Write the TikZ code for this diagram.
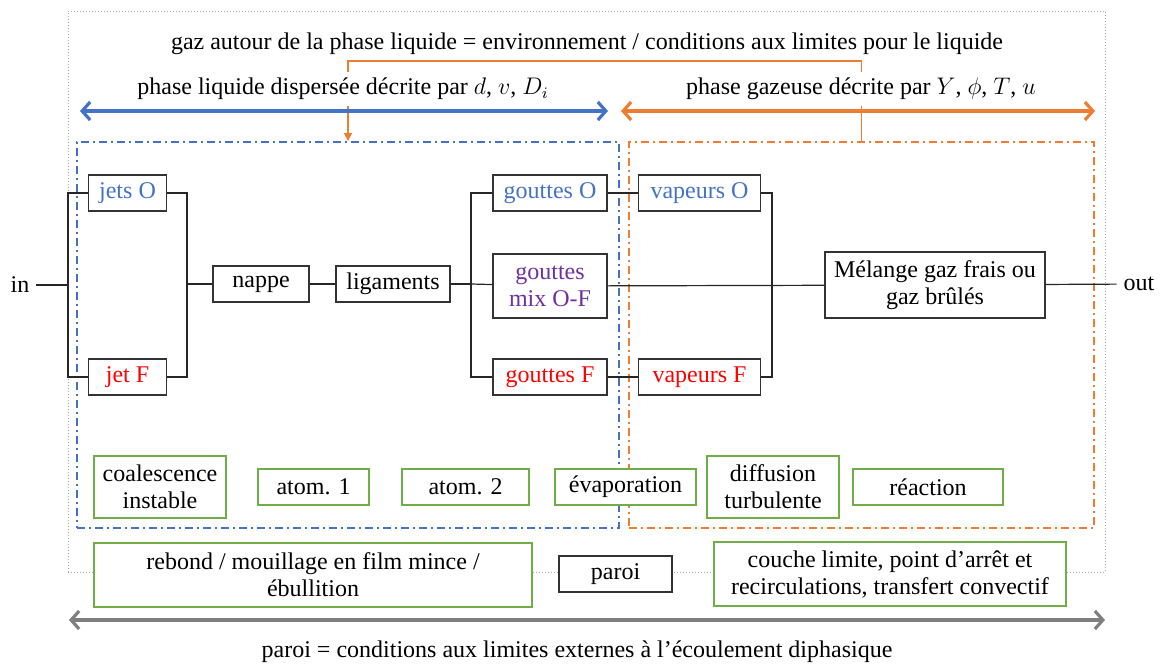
\documentclass[tikz,border=0pt]{standalone}
\usepackage{fontspec}
\setmainfont{Liberation Serif}
\usetikzlibrary{arrows.meta}

\definecolor{cblue}{HTML}{4472C4}
\definecolor{cred}{HTML}{FF0000}
\definecolor{cpurple}{HTML}{7030A0}
\definecolor{corange}{HTML}{ED7D31}
\definecolor{cgreen}{HTML}{70AD47}
\definecolor{cgrey}{HTML}{7F7F7F}
\definecolor{cframe}{HTML}{A6A6A6}

\begin{document}
\begin{tikzpicture}[
  x=0.5pt, y=-0.5pt,
  font=\fontsize{12pt}{13.5pt}\selectfont,
  box/.style={draw=black!80, line width=0.75pt, align=center, inner sep=1pt, minimum height=18pt},
  procbox/.style={draw=cgreen, line width=0.75pt, fill=white, align=center, inner sep=1pt, minimum height=18pt},
  zone/.style={line width=0.9pt, inner sep=0pt, minimum height=193pt, dash pattern=on 4pt off 2pt on 1pt off 2pt},
  wire/.style={line width=0.6pt, black!85},
  phasetext/.style={fill=white, inner sep=3pt},
  phasearrow/.style={line width=1.6pt, {Straight Barb[length=4pt,width=9pt]}-{Straight Barb[length=4pt,width=9pt]}}
]
\useasboundingbox (0,0) rectangle (1160,664);

% cadre et zones
\node[draw=cframe, densely dotted, line width=0.5pt, inner sep=0pt, minimum width=518.5pt, minimum height=280.5pt] (cadre) at (586.5,291.5) {};
\node[zone, draw=cblue, minimum width=271pt] (liq) at (348,335) {};
\node[zone, draw=corange, minimum width=232.5pt] (gaz) at (861.5,335) {};

\draw[corange, line width=0.75pt, -{Triangle[length=4pt,width=4pt]}] (gaz.north) -- ++(0,-80) -| (liq.north);

% titres
\node (titre) at (587,44) {gaz autour de la phase liquide = environnement / conditions aux limites pour le liquide};
\node[phasetext] (tliq) at (343,89) {phase liquide dispersée décrite par $d$, $v$, $D_i$};
\node[phasetext] (tgaz) at (861,89) {phase gazeuse décrite par $Y$, $\phi$, $T$, $u$};

\coordinate (la) at (80,111);
\coordinate (lb) at (608,111);
\coordinate (ga) at (621,111);
\coordinate (gb) at (1095,111);
\draw[phasearrow, cblue] (la) -- (lb);
\draw[phasearrow, corange] (ga) -- (gb);

% chaine
\node (in) at (20,285) {in};
\node[box, minimum width=39pt, text=cblue] (jetO) at (127.5,193) {jets O};
\node[box, minimum width=39pt, text=cred] (jetF) at (127.5,377) {jet F};
\node[box, minimum width=48pt] (nappe) at (261,284) {nappe};
\node[box, minimum width=57pt] (lig) at (393,284) {ligaments};
\node[box, minimum width=57pt, text=cblue] (gO) at (550,193) {gouttes O};
\node[box, minimum width=57pt, minimum height=32pt, text=cpurple] (gM) at (550,286) {gouttes\\mix O-F};
\node[box, minimum width=57pt, text=cred] (gF) at (550,377) {gouttes F};
\node[box, minimum width=61pt, text=cblue] (vO) at (699.5,193) {vapeurs O};
\node[box, minimum width=61pt, text=cred] (vF) at (699.5,377) {vapeurs F};
\node[box, minimum width=110pt, minimum height=33pt] (mel) at (935,285) {Mélange gaz frais ou\\gaz brûlés};
\node (out) at (1139,284) {out};

\coordinate (f1) at (68,285);
\coordinate (f2) at (187,284);
\coordinate (f3) at (471,284);
\coordinate (f4) at (772,285);

\draw[wire] (in) -- (f1);
\draw[wire] (jetO.west) -| (f1) |- (jetF.west);
\draw[wire] (jetO.east) -| (f2) |- (jetF.east);
\draw[wire] (f2) -- (nappe);
\draw[wire] (nappe) -- (lig);
\draw[wire] (lig) -- (f3);
\draw[wire] (gO.west) -| (f3) |- (gF.west);
\draw[wire] (f3) -- (gM);
\draw[wire] (gO) -- (vO);
\draw[wire] (gF) -- (vF);
\draw[wire] (gM) -- (mel);
\draw[wire] (vO.east) -| (f4) |- (vF.east);
\draw[wire] (mel) -- (out);

% processus
\node[procbox, minimum width=66pt, minimum height=31pt] (coal) at (160,487) {coalescence\\instable};
\node[procbox, minimum width=55.5pt] (atomA) at (313.5,487) {atom. 1};
\node[procbox, minimum width=63.5pt] (atomB) at (465.5,487) {atom. 2};
\node[procbox, minimum width=70.5pt] (evap) at (625.5,487) {évaporation};
\node[procbox, minimum width=66pt, minimum height=31pt] (diff) at (773,487) {diffusion\\turbulente};
\node[procbox, minimum width=75pt] (reac) at (928,487) {réaction};

% paroi
\node[procbox, minimum width=219pt, minimum height=32pt] (rebond) at (313,575) {rebond / mouillage en film mince /\\ébullition};
\node[box, fill=white, minimum width=56.5pt] (paroi) at (615.5,574) {paroi};
\node[procbox, minimum width=176pt, minimum height=32pt] (couche) at (890,574) {couche limite, point d’arrêt et\\recirculations, transfert convectif};

\coordinate (pa) at (69,620);
\coordinate (pb) at (1105,620);
\draw[phasearrow, cgrey] (pa) -- (pb);
\node (tparoi) at (577,652) {paroi = conditions aux limites externes à l’écoulement diphasique};
\end{tikzpicture}
\end{document}
